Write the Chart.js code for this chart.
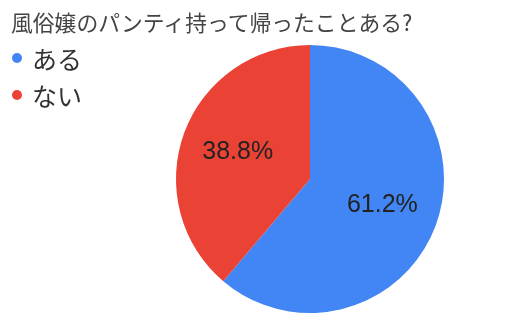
<!DOCTYPE html>
<html lang="ja">
<head>
    <meta charset="UTF-8">
    <title>風俗嬢のパンティ持って帰ったことある?</title>
    <script src="https://cdn.jsdelivr.net/npm/chart.js@4/dist/chart.umd.min.js"></script>
    <style>
        html, body {
            margin: 0;
            padding: 0;
            background: #fff;
        }

        .wrap {
            position: relative;
            width: 523px;
            height: 322px;
            font-family: 'Noto Sans CJK JP', 'Noto Sans', sans-serif;
        }

        .title {
            position: absolute;
            left: 11px;
            top: 7px;
            font-size: 21.8px;
            line-height: 30px;
            color: #444;
            white-space: nowrap;
        }

        .legend {
            position: absolute;
            left: 12px;
            top: 39px;
        }

        .legend-item {
            display: flex;
            align-items: center;
            height: 37px;
            font-size: 25px;
            color: #333;
        }

        .legend-item span.dot {
            display: inline-block;
            width: 10px;
            height: 10px;
            border-radius: 50%;
            margin-right: 10px;
        }

        canvas {
            position: absolute;
            left: 0;
            top: 0;
        }
    </style>
</head>
<body>
    <div class="wrap">
        <canvas id="myChart" width="523" height="322"></canvas>
        <div class="title" id="title"></div>
        <div class="legend" id="legend"></div>
    </div>
    <script>
        const titleText = '風俗嬢のパンティ持って帰ったことある?';
        const labels = ['ある', 'ない'];
        const values = [61.2, 38.8];
        const colors = ['#4285F4', '#EA4335'];

        document.getElementById('title').textContent = titleText;
        const legend = document.getElementById('legend');
        labels.forEach((label, i) => {
            const item = document.createElement('div');
            item.className = 'legend-item';
            item.innerHTML = '<span class="dot" style="background:' + colors[i] + '"></span>' + label;
            legend.appendChild(item);
        });

        // percentage text inside each slice
        const sliceLabels = {
            id: 'sliceLabels',
            afterDatasetsDraw(chart) {
                const ctx = chart.ctx;
                const total = values.reduce((a, b) => a + b, 0);
                chart.getDatasetMeta(0).data.forEach((arc, i) => {
                    const mid = (arc.startAngle + arc.endAngle) / 2;
                    const r = arc.outerRadius * 0.575;
                    const x = arc.x + Math.cos(mid) * r;
                    const y = arc.y + Math.sin(mid) * r;
                    ctx.save();
                    ctx.font = '25px "Liberation Sans", Arial, sans-serif';
                    ctx.fillStyle = '#222';
                    ctx.textAlign = 'center';
                    ctx.textBaseline = 'middle';
                    ctx.fillText((values[i] / total * 100).toFixed(1) + '%', x, y);
                    ctx.restore();
                });
            }
        };

        const ctx = document.getElementById('myChart').getContext('2d');
        new Chart(ctx, {
            type: 'pie',
            data: {
                labels: labels,
                datasets: [{
                    data: values,
                    backgroundColor: colors,
                    borderWidth: 0
                }]
            },
            options: {
                responsive: false,
                animation: false,
                layout: {
                    padding: { left: 176, right: 79, top: 45, bottom: 9 }
                },
                plugins: {
                    legend: { display: false },
                    tooltip: { enabled: false }
                }
            },
            plugins: [sliceLabels]
        });
    </script>
</body>
</html>
